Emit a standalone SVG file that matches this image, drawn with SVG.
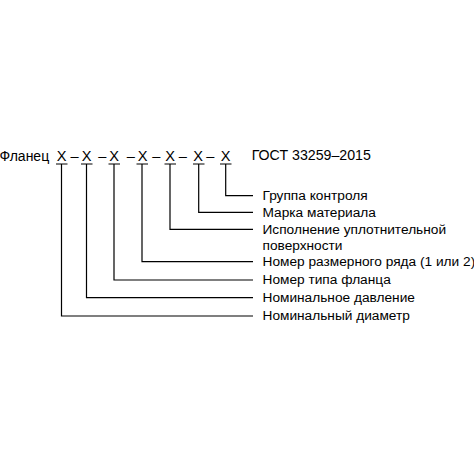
<svg xmlns="http://www.w3.org/2000/svg" width="474" height="474" viewBox="0 0 474 474">
<style>
text{font-family:"Liberation Sans",Arial,sans-serif;font-size:13.7px;fill:#000}
.c{text-anchor:middle;font-size:14.6px}
.ln{fill:none;stroke:#000;stroke-width:1.2}
</style>
<rect width="474" height="474" fill="#fff"/>
<g id="designation">
<text x="-0.5" y="161" style="font-size:14px">Фланец</text>
<text class="c" x="61.7" y="161">X</text>
<text class="c" x="74.5" y="161">–</text>
<text class="c" x="86.7" y="161">X</text>
<text class="c" x="102.3" y="161">–</text>
<text class="c" x="114" y="161">X</text>
<text class="c" x="130.8" y="161">–</text>
<text class="c" x="142.5" y="161">X</text>
<text class="c" x="156.2" y="161">–</text>
<text class="c" x="170" y="161">X</text>
<text class="c" x="182.8" y="161">–</text>
<text class="c" x="198" y="161">X</text>
<text class="c" x="210.3" y="161">–</text>
<text class="c" x="225.5" y="161">X</text>
<text x="251.7" y="160" style="font-size:14.2px">ГОСТ 33259–2015</text>
</g>
<g id="connectors" class="ln">
<path d="M56 164H67.5M61.5 164V316H253"/>
<path d="M81 164H92.5M86.5 164V297.7H253"/>
<path d="M108.5 164H120M114 164V280H253"/>
<path d="M136.5 164H148M142 164V261.7H253"/>
<path d="M164.5 164H176M170 164V229.3H253"/>
<path d="M193 164H204.5M198.7 164V212.3H253"/>
<path d="M220 164H231.5M225.7 164V195.7H253"/>
</g>
<g id="label-group"><text x="262.5" y="200">Группа контроля</text></g>
<g id="label-material"><text x="262.5" y="216.6">Марка материала</text></g>
<g id="label-surface"><text x="262.5" y="233.6">Исполнение уплотнительной</text><text x="262.5" y="250">поверхности</text></g>
<g id="label-row"><text x="262.5" y="266">Номер размерного ряда (1 или 2)</text></g>
<g id="label-type"><text x="262.5" y="284.3">Номер типа фланца</text></g>
<g id="label-pressure"><text x="262.5" y="302">Номинальное давление</text></g>
<g id="label-diameter"><text x="262.5" y="320.3">Номинальный диаметр</text></g>
</svg>
